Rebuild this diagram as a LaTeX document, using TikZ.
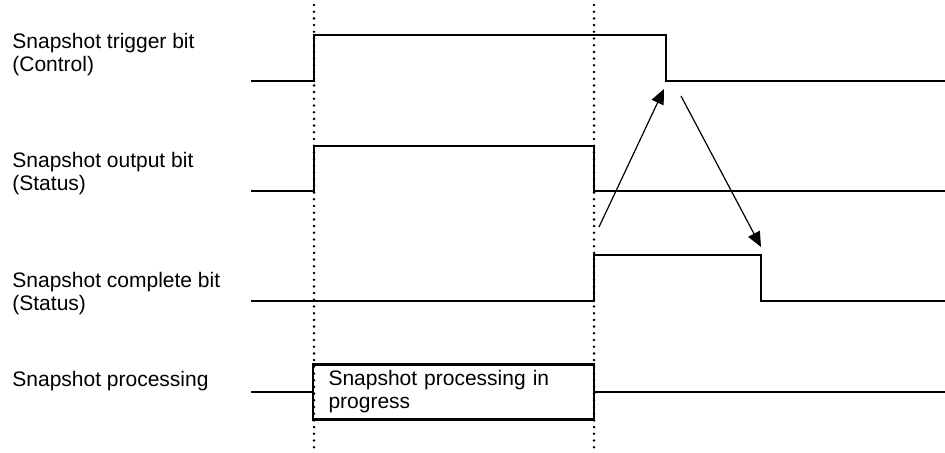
\documentclass[tikz,border=0pt]{standalone}
\usepackage{fontspec}
\setmainfont{Liberation Sans}
\usetikzlibrary{arrows.meta}

\begin{document}
\begin{tikzpicture}[
  x=0.5pt, y=-0.5pt,
  font=\fontsize{10.5}{11.5}\selectfont,
  label/.style={anchor=west, align=left, inner sep=0pt},
  signal/.style={line width=1.1pt, line join=miter},
  marker/.style={line width=1.4pt, line cap=round, dash pattern=on 0pt off 3.35pt},
  arrow/.style={-{Triangle[length=7.5pt, width=6.5pt]}, line width=0.6pt},
  procbox/.style={draw, line width=1.1pt, minimum width=140.5pt, minimum height=27.5pt,
    text width=125pt, align=left, inner sep=0pt}
]
\useasboundingbox (0,0) rectangle (945,453);

% =========================
% Signal names
% =========================
\node[label] (ltrigger) at (12,54.5) {Snapshot trigger bit\\(Control)};
\node[label] (loutput) at (12,174) {Snapshot output bit\\(Status)};
\node[label] (lcomplete) at (12,294) {Snapshot complete bit\\(Status)};
\node[label] (lprocess) at (12,381) {Snapshot processing};

% =========================
% Timing markers
% =========================
\draw[marker] (314,5) -- (314,453);
\draw[marker] (594,5) -- (594,453);

% =========================
% Waveforms
% =========================
\draw[signal] (251,81) -- (314,81) -- (314,35) -- (666,35) -- (666,81) -- (945,81);
\draw[signal] (251,191) -- (314,191) -- (314,146) -- (594,146) -- (594,191) -- (945,191);
\draw[signal] (251,301) -- (594,301) -- (594,255) -- (761,255) -- (761,301) -- (945,301);

\node[procbox] (process) at (453.5,392) {Snapshot processing in\\progress};
\draw[signal] (251,392) -- (process.west);
\draw[signal] (process.east) -- (945,392);

% =========================
% Handshake arrows
% =========================
\coordinate (ack) at (599,227);
\coordinate (fall) at (664,89);
\coordinate (clr) at (681,96);
\coordinate (done) at (761,247);
\draw[arrow] (ack) -- (fall);
\draw[arrow] (clr) -- (done);

\end{tikzpicture}
\end{document}
